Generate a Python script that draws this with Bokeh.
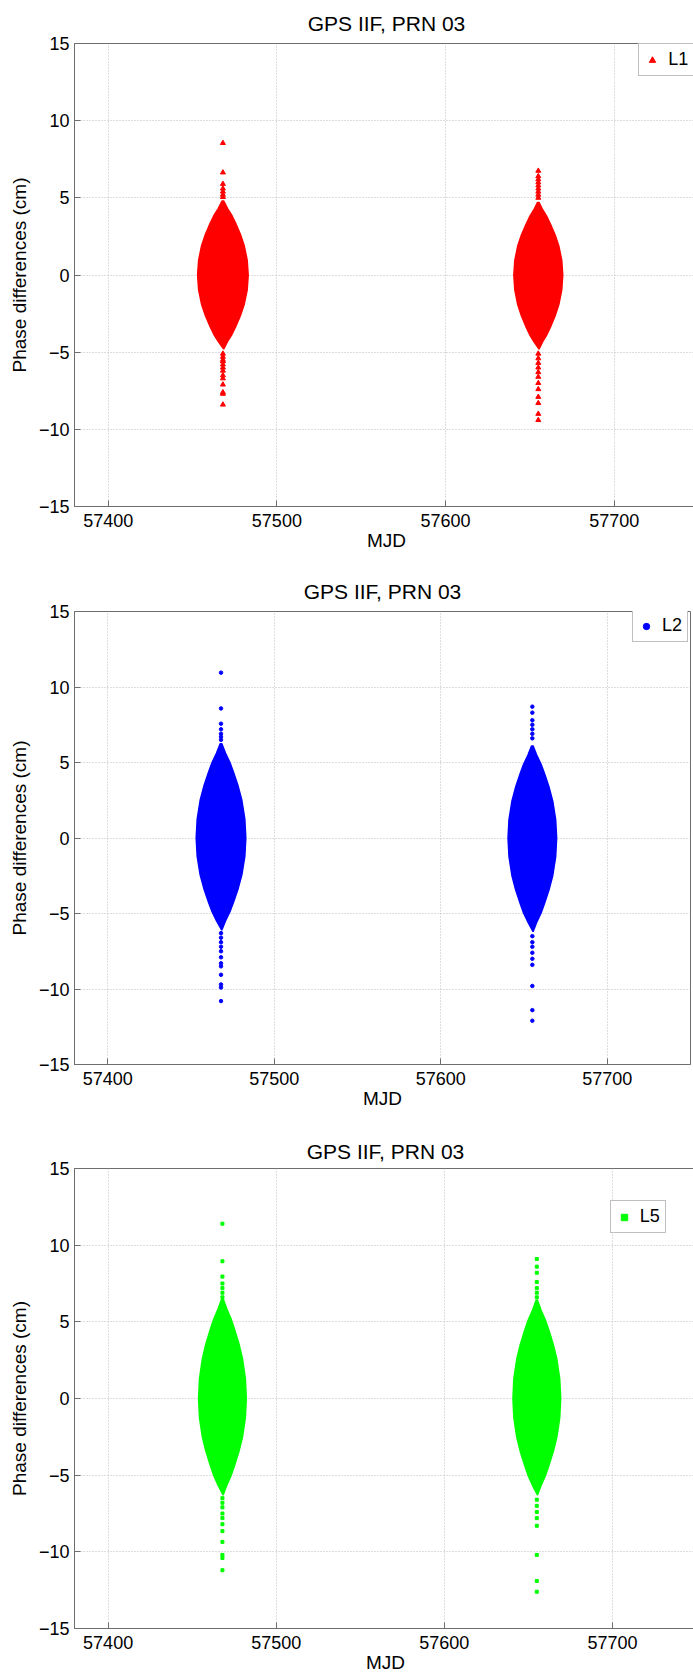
from bokeh.plotting import figure
from bokeh.layouts import column
from bokeh.models import Range1d, FixedTicker, Legend, LegendItem
from bokeh.embed import file_html
from bokeh.resources import INLINE

# ---------------- data ----------------
TITLE = "GPS IIF, PRN 03"
X_LABEL = "MJD"
Y_LABEL = "Phase differences (cm)"
x_ticks = [57400, 57500, 57600, 57700]
y_ticks = [-15, -10, -5, 0, 5, 10, 15]
x_limits = [57380, 57750]
y_limits = [-15, 15]

# centre MJD of the two observation passes
pass_mjd = [57468, 57655]

# relative outline of the dense "spindle" of points (height fraction -> half-width fraction)
shape_rel_y = [1.0, 0.9, 0.8, 0.7, 0.55, 0.4, 0.2, 0.0]
shape_rel_w = [0.03, 0.18, 0.36, 0.50, 0.69, 0.84, 0.96, 1.0]

# L1
L1_lens_top = [4.8, 4.7]
L1_lens_bottom = [-4.8, -4.8]
L1_lens_halfwidth = [15.0, 14.5]
L1_outliers_pass1 = [8.55, 6.64, 5.9, 5.6, 5.4, 5.2, 5.05,
                     -5.1, -5.3, -5.5, -5.6, -5.8, -6.0, -6.2, -6.5, -6.7, -7.1, -7.6, -7.7, -8.4]
L1_outliers_pass2 = [6.75, 6.4, 6.2, 6.0, 5.8, 5.6, 5.4, 5.2, 5.0,
                     -5.1, -5.4, -5.7, -6.0, -6.3, -6.6, -7.0, -7.4, -7.9, -8.3, -9.0, -9.4]

# L2
L2_lens_top = [6.25, 6.1]
L2_lens_bottom = [-6.1, -6.2]
L2_lens_halfwidth = [14.9, 14.6]
L2_outliers_pass1 = [10.95, 8.58, 7.57, 7.2, 6.9, 6.7, 6.5,
                     -6.3, -6.6, -6.9, -7.2, -7.5, -7.9, -8.3, -8.5, -9.06, -9.7, -9.9, -10.8]
L2_outliers_pass2 = [8.7, 8.3, 7.8, 7.5, 7.2, 6.9, 6.6,
                     -6.5, -6.9, -7.2, -7.6, -8.0, -8.4, -9.8, -11.4, -12.1]

# L5
L5_lens_top = [6.5, 6.4]
L5_lens_bottom = [-6.3, -6.3]
L5_lens_halfwidth = [14.2, 14.2]
L5_outliers_pass1 = [11.4, 8.95, 7.95, 7.5, 7.2, 6.9, 6.6,
                     -6.5, -6.8, -7.1, -7.5, -7.8, -8.2, -8.65, -9.35, -10.2, -10.4, -11.2]
L5_outliers_pass2 = [9.1, 8.6, 8.2, 7.6, 7.2, 6.9, 6.6,
                     -6.6, -7.0, -7.4, -7.8, -8.3, -10.2, -11.9, -12.6]

FONT = "Liberation Sans"


def lens_outline(c, top, bottom, hw):
    ry, rw = shape_rel_y, shape_rel_w
    xs, ys = [], []
    for r, w in zip(ry, rw):
        xs.append(c + hw * w); ys.append(top * r)
    for r, w in list(zip(ry, rw))[::-1][1:]:
        xs.append(c + hw * w); ys.append(bottom * r)
    for r, w in list(zip(ry, rw))[1:]:
        xs.append(c - hw * w); ys.append(bottom * r)
    for r, w in list(zip(ry, rw))[::-1][1:]:
        xs.append(c - hw * w); ys.append(top * r)
    return xs, ys


def make_panel(label, color, marker, msize, tops, bottoms, hws, outs,
               border_top, frame_h, border_bottom, border_left, frame_w, border_right,
               legend_xy, title_standoff):
    p = figure(frame_width=frame_w, frame_height=frame_h,
               min_border_top=border_top, min_border_bottom=border_bottom,
               min_border_left=border_left, min_border_right=border_right,
               x_range=Range1d(*x_limits), y_range=Range1d(*y_limits),
               output_backend="svg", toolbar_location=None,
               background_fill_color="white", border_fill_color="white")
    p.title.text = TITLE
    p.title.align = "center"
    p.title.text_font = FONT
    p.title.text_font_size = "21px"
    p.title.text_font_style = "normal"
    p.title.text_color = "black"
    p.title.standoff = title_standoff

    for ax in (p.xaxis[0], p.yaxis[0]):
        ax.axis_line_color = "#6e6e6e"
        ax.major_tick_line_color = "#6e6e6e"
        ax.major_tick_in = 6
        ax.major_tick_out = 0
        ax.minor_tick_line_color = None
        ax.major_label_text_font = FONT
        ax.major_label_text_font_size = "18px"
        ax.major_label_text_color = "black"
        ax.axis_label_text_font = FONT
        ax.axis_label_text_font_size = "19px"
        ax.axis_label_text_font_style = "normal"
        ax.axis_label_text_color = "black"
    p.xaxis[0].ticker = FixedTicker(ticks=x_ticks)
    p.yaxis[0].ticker = FixedTicker(ticks=y_ticks)
    p.xaxis[0].axis_label = X_LABEL
    p.yaxis[0].axis_label = Y_LABEL
    p.xaxis[0].major_label_standoff = 7
    p.xaxis[0].axis_label_standoff = 0
    p.yaxis[0].major_label_standoff = 5
    p.yaxis[0].axis_label_standoff = 6

    p.outline_line_color = "#6e6e6e"
    p.grid.grid_line_color = "#bdbdbd"
    p.grid.grid_line_dash = "1 2"
    p.grid.grid_line_width = 1

    for c, t, b, hw in zip(pass_mjd, tops, bottoms, hws):
        xs, ys = lens_outline(c, t, b, hw)
        p.patch(xs, ys, fill_color=color, line_color=color, line_width=1.5)

    renderers = []
    for c, o in zip(pass_mjd, outs):
        r = p.scatter([c] * len(o), o, marker=marker, size=msize,
                      fill_color=color, line_color=color)
        renderers.append(r)

    leg = Legend(items=[LegendItem(label=label, renderers=[renderers[0]])],
                 location=legend_xy)
    leg.label_text_font = FONT
    leg.label_text_font_size = "18px"
    leg.label_text_color = "black"
    leg.border_line_color = "#808080"
    leg.border_line_width = 1
    leg.background_fill_color = "white"
    leg.background_fill_alpha = 1.0
    leg.padding = 5
    leg.margin = 0
    leg.glyph_width = 16
    leg.glyph_height = 18
    leg.label_height = 18
    leg.label_standoff = 8
    leg.spacing = 0
    p.add_layout(leg)
    return p


p1 = make_panel("L1", "#ff0000", "triangle", 5,
                L1_lens_top, L1_lens_bottom, L1_lens_halfwidth,
                [L1_outliers_pass1, L1_outliers_pass2],
                43, 463, 54, 68, 624, 1, (569, 430), 17)
p2 = make_panel("L2", "#0000ff", "circle", 3.5,
                L2_lens_top, L2_lens_bottom, L2_lens_halfwidth,
                [L2_outliers_pass1, L2_outliers_pass2],
                51, 453, 56, 74, 616, 3, (558, 422), 17)
p3 = make_panel("L5", "#00ff00", "square", 3,
                L5_lens_top, L5_lens_bottom, L5_lens_halfwidth,
                [L5_outliers_pass1, L5_outliers_pass2],
                48, 460, 50, 69, 622, 2, (540, 395), 12)

layout = column(p1, p2, p3, spacing=0)
open("out.html", "w").write(file_html(layout, INLINE))
